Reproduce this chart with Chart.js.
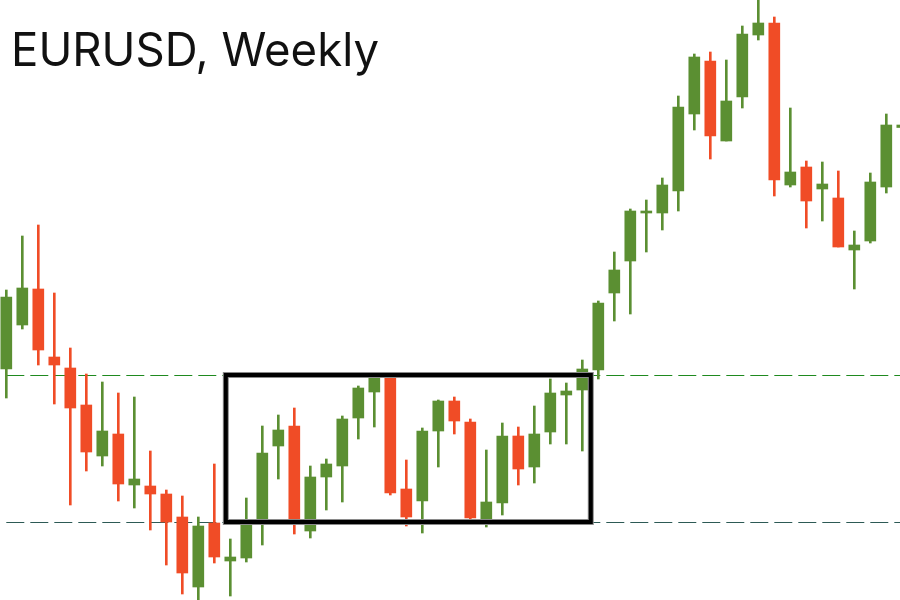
<!DOCTYPE html>
<html>
<head>
<meta charset="utf-8">
<script src="https://cdn.jsdelivr.net/npm/chart.js@4"></script>
<style>
  html, body { margin: 0; padding: 0; background: #fff; }
  canvas { display: block; }
</style>
</head>
<body>
<canvas id="myChart" width="900" height="600"></canvas>
<script>
// weekly candles (oldest first)
var opens  = [1.0962, 1.1050, 1.1122, 1.0986, 1.0964, 1.0890, 1.0788, 1.0832, 1.0730, 1.0728,
              1.0712, 1.0666, 1.0526, 1.0654, 1.0578, 1.0584, 1.0658, 1.0808, 1.0848, 1.0638,
              1.0746, 1.0768, 1.0864, 1.0916, 1.0946, 1.0722, 1.0698, 1.0838, 1.0898, 1.0856,
              1.0662, 1.0694, 1.0828, 1.0766, 1.0836, 1.0910, 1.0920, 1.0960, 1.1114, 1.1178,
              1.1274, 1.1274, 1.1318, 1.1472, 1.1578, 1.1418, 1.1506, 1.1630, 1.1654, 1.1330,
              1.1366, 1.1322, 1.1304, 1.1200, 1.1218, 1.1326, 1.1445];
var highs  = [1.1120, 1.1228, 1.1250, 1.1114, 1.1004, 1.0952, 1.0936, 1.0914, 1.0906, 1.0798,
              1.0720, 1.0708, 1.0666, 1.0772, 1.0622, 1.0704, 1.0848, 1.0870, 1.0884, 1.0768,
              1.0782, 1.0868, 1.0928, 1.0952, 1.0948, 1.0780, 1.0844, 1.0900, 1.0906, 1.0862,
              1.0800, 1.0854, 1.0846, 1.0888, 1.0942, 1.0934, 1.0980, 1.1098, 1.1196, 1.1282,
              1.1300, 1.1344, 1.1508, 1.1592, 1.1596, 1.1580, 1.1648, 1.1710, 1.1666, 1.1484,
              1.1378, 1.1376, 1.1358, 1.1238, 1.1354, 1.1472, 1.1460];
var lows   = [1.0904, 1.1042, 1.0970, 1.0892, 1.0690, 1.0758, 1.0768, 1.0698, 1.0684, 1.0640,
              1.0570, 1.0512, 1.0500, 1.0574, 1.0508, 1.0576, 1.0610, 1.0742, 1.0632, 1.0624,
              1.0680, 1.0696, 1.0822, 1.0846, 1.0710, 1.0648, 1.0634, 1.0766, 1.0832, 1.0658,
              1.0646, 1.0670, 1.0730, 1.0734, 1.0812, 1.0812, 1.0798, 1.0942, 1.1058, 1.1072,
              1.1196, 1.1240, 1.1278, 1.1440, 1.1382, 1.1418, 1.1484, 1.1620, 1.1308, 1.1326,
              1.1244, 1.1258, 1.1206, 1.1122, 1.1214, 1.1314, 1.1430];
var closes = [1.1106, 1.1124, 1.1000, 1.0970, 1.0884, 1.0796, 1.0838, 1.0732, 1.0742, 1.0712,
              1.0656, 1.0554, 1.0648, 1.0586, 1.0586, 1.0650, 1.0794, 1.0840, 1.0660, 1.0746,
              1.0772, 1.0862, 1.0924, 1.0948, 1.0714, 1.0666, 1.0838, 1.0898, 1.0858, 1.0664,
              1.0696, 1.0828, 1.0762, 1.0832, 1.0914, 1.0918, 1.0962, 1.1094, 1.1160, 1.1278,
              1.1278, 1.1330, 1.1486, 1.1586, 1.1428, 1.1498, 1.1632, 1.1654, 1.1340, 1.1356,
              1.1298, 1.1332, 1.1206, 1.1210, 1.1336, 1.1450, 1.1450];

var resistance = 1.0950;
var support = 1.0656;
var rangeFrom = 13.72, rangeTo = 36.53; // in weeks

var UP = '#5b8f32', DOWN = '#f04c26';
var colors = opens.map(function (o, i) { return closes[i] >= o ? UP : DOWN; });

var levelsAndBox = {
  id: 'levelsAndBox',
  beforeDatasetsDraw: function (chart) {
    var ctx = chart.ctx, x = chart.scales.x, y = chart.scales.y;
    ctx.save();
    ctx.lineWidth = 1;
    ctx.setLineDash([18, 6]);
    [[resistance, '#1f8a1f'], [support, '#2d5a55']].forEach(function (l) {
      var py = Math.round(y.getPixelForValue(l[0])) + 0.5;
      ctx.strokeStyle = l[1];
      ctx.beginPath();
      ctx.moveTo(x.getPixelForValue(0), py);
      ctx.lineTo(chart.chartArea.right, py);
      ctx.stroke();
    });
    ctx.restore();
  },
  afterDatasetsDraw: function (chart) {
    var ctx = chart.ctx, x = chart.scales.x, y = chart.scales.y;
    var x0 = x.getPixelForValue(rangeFrom), x1 = x.getPixelForValue(rangeTo);
    var y0 = y.getPixelForValue(resistance), y1 = y.getPixelForValue(support);
    ctx.save();
    ctx.strokeStyle = '#8a8a8a';
    ctx.lineWidth = 6;
    ctx.strokeRect(x0, y0, x1 - x0, y1 - y0);
    ctx.strokeStyle = '#000';
    ctx.lineWidth = 4;
    ctx.strokeRect(x0, y0, x1 - x0, y1 - y0);
    ctx.restore();
  },
  afterDraw: function (chart) {
    var ctx = chart.ctx;
    var txt = 'EURUSD, Weekly';
    ctx.save();
    ctx.font = '400 46px Inter, "Open Sans", sans-serif';
    ctx.fillStyle = '#111';
    ctx.textBaseline = 'alphabetic';
    var w = ctx.measureText(txt).width;
    ctx.translate(11, 66);
    ctx.scale(368 / w, 1);
    ctx.fillText(txt, 0, 0);
    ctx.restore();
  }
};

var options = {
  type: 'bar',
  data: {
    datasets: [
      {
        label: 'wick',
        data: highs.map(function (h, i) { return { x: i, y: [lows[i], h] }; }),
        backgroundColor: colors,
        barThickness: 2,
        grouped: false,
        order: 2
      },
      {
        label: 'body',
        data: opens.map(function (o, i) { return { x: i, y: [o, closes[i]] }; }),
        backgroundColor: colors,
        barThickness: 11,
        grouped: false,
        order: 1
      }
    ]
  },
  options: {
    responsive: false,
    animation: false,
    layout: { padding: 0 },
    scales: {
      x: { type: 'linear', display: false, offset: false, bounds: 'ticks', min: -0.394, max: 55.856 },
      y: { type: 'linear', display: false, min: 1.05, max: 1.17 }
    },
    plugins: {
      legend: { display: false },
      tooltip: { enabled: false }
    }
  },
  plugins: [levelsAndBox]
};

var ctx = document.getElementById('myChart').getContext('2d');
new Chart(ctx, options);
</script>
</body>
</html>
